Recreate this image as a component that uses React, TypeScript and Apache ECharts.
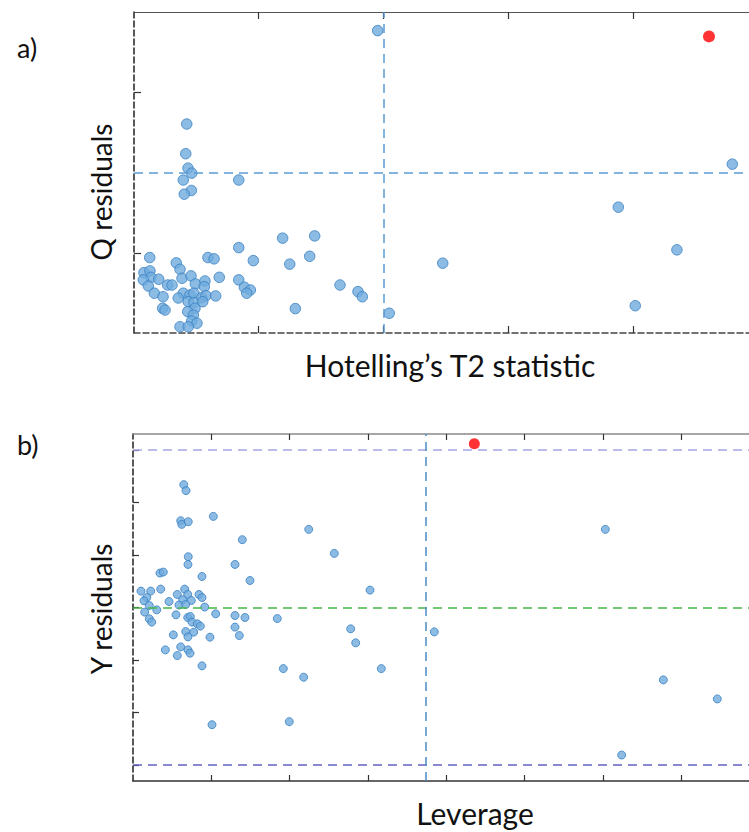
import React, { useEffect, useRef } from "react";
import * as echarts from "echarts";

// Panel a: Hotelling's T2 vs Q residuals (arbitrary units, tick spacing = 1)
const hotellingT2 = [
  1.954, 0.423, 0.415, 0.433, 0.463, 0.395, 0.46, 0.403, 0.84, 1.192, 1.449, 0.84, 0.126, 0.593, 0.642,
  0.957, 1.409, 1.249, 0.339, 0.369, 0.08, 0.128, 0.136, 0.075, 0.198, 0.115, 0.27, 0.305, 0.385, 0.457,
  0.492, 0.569, 0.564, 0.684, 0.84, 0.885, 0.933, 0.904, 0.163, 0.233, 0.395, 0.355, 0.449, 0.481, 0.543,
  0.577, 0.655, 0.435, 0.481, 0.551, 0.23, 0.249, 0.489, 0.431, 0.476, 0.463, 0.505, 0.369, 0.435, 1.652,
  1.796, 1.831, 1.294, 2.047, 2.476, 4.798, 3.884, 4.354, 4.02,
];
const qResiduals = [
  1.884, 1.302, 1.117, 1.027, 0.996, 0.953, 0.888, 0.865, 0.953, 0.591, 0.605, 0.532, 0.47, 0.47, 0.462,
  0.451, 0.478, 0.429, 0.437, 0.397, 0.376, 0.387, 0.347, 0.331, 0.335, 0.293, 0.299, 0.299, 0.341, 0.356,
  0.306, 0.324, 0.289, 0.347, 0.331, 0.285, 0.268, 0.248, 0.248, 0.226, 0.248, 0.218, 0.237, 0.248, 0.22,
  0.233, 0.231, 0.195, 0.189, 0.195, 0.154, 0.143, 0.154, 0.133, 0.112, 0.075, 0.061, 0.039, 0.039, 0.299,
  0.258, 0.226, 0.152, 0.123, 0.435, 1.052, 0.784, 0.518, 0.17,
];
const outlierT2 = [4.611];
const outlierQ = [1.848];
const t2Limit = 2;
const qLimit = 1;
const t2Max = 4.932;
const t2Ticks = [1, 2, 3, 4];
const qTicks = [0.5, 1.5];

// Panel b: Leverage vs Y residuals
const leverage = [
  0.648, 0.677, 0.609, 0.622, 0.706, 1.026, 2.244, 1.396, 2.571, 0.706, 0.702, 1.303, 0.345, 0.387, 0.881,
  1.494, 3.027, 0.102, 0.226, 0.354, 0.175, 0.14, 0.66, 0.566, 0.699, 0.843, 0.881, 0.635, 0.745, 0.46,
  0.208, 0.587, 0.673, 0.916, 0.303, 0.149, 1.056, 0.549, 1.303, 1.43, 1.843, 0.208, 0.239, 0.699, 0.732,
  0.754, 0.821, 0.86, 1.303, 2.78, 0.673, 0.775, 0.515, 1.358, 0.702, 0.983, 2.844, 0.413, 0.609, 0.702,
  0.728, 0.566, 0.881, 1.92, 3.171, 2.18, 1.009, 1.996, 3.848, 6.032, 6.773, 7.462, 6.241,
];
const yResiduals = [
  2.337, 2.223, 1.651, 1.581, 1.632, 1.733, 1.486, 1.29, 1.029, 0.966, 0.819, 0.819, 0.655, 0.674, 0.59,
  0.514, 0.331, 0.312, 0.312, 0.35, 0.19, 0.128, 0.35, 0.248, 0.248, 0.248, 0.19, 0.147, 0.133, 0.114,
  0.038, 0.046, 0.057, 0.008, -0.044, -0.088, -0.12, -0.139, -0.152, -0.19, -0.21, -0.215, -0.278, -0.19,
  -0.171, -0.278, -0.31, -0.354, -0.373, -0.406, -0.457, -0.469, -0.52, -0.533, -0.558, -0.564, -0.672,
  -0.806, -0.749, -0.806, -0.869, -0.914, -1.11, -1.162, -1.162, -1.326, -2.229, -2.171, -0.463, 1.486,
  -1.377, -1.739, -2.806,
];
const outlierLev = [4.359];
const outlierYRes = [3.116];
const leverageLimit = 3.742;
const yResLimit = 3;
const levMax = 7.867;
const levTicks = [1, 2, 3, 4, 5, 6, 7];
const yResTicks = [-3, -2, -1, 0, 1, 2, 3];

const FONT = "Lato, 'Open Sans', sans-serif";
const BLUE_FILL = "#6fabdd";
const BLUE_EDGE = "#3a80c2";

const zip = (a: number[], b: number[]) => a.map((v, i) => [v, b[i]]);

export default function App() {
  const ref = useRef<HTMLDivElement>(null);
  useEffect(() => {
    if (!ref.current) return;
    const chart = echarts.init(ref.current, undefined, { renderer: "svg" });
    const noLine = { show: false };
    const tick = (len: number, values: number[]) => ({
      show: true, inside: true, length: len, customValues: values,
      lineStyle: { color: "#333", width: 1.2 },
    });
    chart.setOption({
      animation: false,
      backgroundColor: "#ffffff",
      grid: [
        { left: 134, top: 12, right: 0, height: 321 },
        { left: 133, top: 434, right: 0, height: 347 },
      ],
      xAxis: [
        {
          gridIndex: 0, type: "value", min: 0, max: t2Max, position: "bottom",
          axisLine: { show: true, onZero: false, lineStyle: { color: "#444", width: 1.5, type: [6, 3] } },
          axisTick: tick(7, t2Ticks),
          axisLabel: { show: false }, splitLine: noLine,
        },
        {
          gridIndex: 0, type: "value", min: 0, max: t2Max, position: "top",
          axisLine: { show: true, onZero: false, lineStyle: { color: "#555", width: 1.2 } },
          axisTick: tick(7, t2Ticks),
          axisLabel: { show: false }, splitLine: noLine,
        },
        {
          gridIndex: 1, type: "value", min: 0, max: levMax, position: "bottom",
          axisLine: { show: true, onZero: false, lineStyle: { color: "#333", width: 1.5 } },
          axisTick: tick(6, levTicks),
          axisLabel: { show: false }, splitLine: noLine,
        },
        {
          gridIndex: 1, type: "value", min: 0, max: levMax, position: "top",
          axisLine: { show: true, onZero: false, lineStyle: { color: "#888", width: 1.5 } },
          axisTick: tick(6, levTicks),
          axisLabel: { show: false }, splitLine: noLine,
        },
      ],
      yAxis: [
        {
          gridIndex: 0, type: "value", min: 0, max: 2,
          axisLine: { show: true, onZero: false, lineStyle: { color: "#222", width: 1.5, type: [6, 3] } },
          axisTick: tick(7, qTicks),
          axisLabel: { show: false }, splitLine: noLine,
        },
        {
          gridIndex: 1, type: "value", min: -3.3, max: 3.3,
          axisLine: { show: true, onZero: false, lineStyle: { color: "#222", width: 1.5, type: [6, 3] } },
          axisTick: tick(6, yResTicks),
          axisLabel: { show: false }, splitLine: noLine,
        },
      ],
      series: [
        {
          type: "scatter", xAxisIndex: 0, yAxisIndex: 0,
          data: zip(hotellingT2, qResiduals),
          symbolSize: 10.5,
          itemStyle: { color: BLUE_FILL, borderColor: BLUE_EDGE, borderWidth: 1 },
          markLine: {
            silent: true, symbol: ["none", "none"], label: { show: false },
            lineStyle: { color: "#5b9bd5", width: 1.5, type: [9, 6] },
            data: [{ xAxis: t2Limit }, { yAxis: qLimit }],
          },
        },
        {
          type: "scatter", xAxisIndex: 0, yAxisIndex: 0,
          data: zip(outlierT2, outlierQ),
          symbolSize: 12,
          itemStyle: { color: "#ff0000" },
        },
        {
          type: "scatter", xAxisIndex: 2, yAxisIndex: 1,
          data: zip(leverage, yResiduals),
          symbolSize: 8,
          itemStyle: { color: BLUE_FILL, borderColor: BLUE_EDGE, borderWidth: 1 },
          markLine: {
            silent: true, symbol: ["none", "none"], label: { show: false },
            data: [
              { yAxis: yResLimit, lineStyle: { color: "#a5a5e6", width: 1.5, type: [9, 6] } },
              { yAxis: -yResLimit, lineStyle: { color: "#6363c4", width: 1.5, type: [9, 6] } },
              { yAxis: 0, lineStyle: { color: "#44b844", width: 1.5, type: [9, 6] } },
              { xAxis: leverageLimit, lineStyle: { color: "#4a8cc4", width: 1.5, type: [9, 6] } },
            ],
          },
        },
        {
          type: "scatter", xAxisIndex: 2, yAxisIndex: 1,
          data: zip(outlierLev, outlierYRes),
          symbolSize: 11,
          itemStyle: { color: "#ff0000" },
        },
      ],
      graphic: [
        { type: "text", x: 17, y: 47, style: { text: "a)", font: `27px ${FONT}`, fill: "#111", align: "left", verticalAlign: "middle" } },
        { type: "text", x: 17, y: 444, style: { text: "b)", font: `27px ${FONT}`, fill: "#111", align: "left", verticalAlign: "middle" } },
        { type: "text", x: 101, y: 192, rotation: Math.PI / 2, style: { text: "Q residuals", font: `28px ${FONT}`, fill: "#111", align: "center", verticalAlign: "middle" } },
        { type: "text", x: 101, y: 609, rotation: Math.PI / 2, style: { text: "Y residuals", font: `28px ${FONT}`, fill: "#111", align: "center", verticalAlign: "middle" } },
        { type: "text", x: 450, y: 365, style: { text: "Hotelling\u2019s T2 statistic", font: `30px ${FONT}`, fill: "#111", align: "center", verticalAlign: "middle" } },
        { type: "text", x: 475, y: 813, style: { text: "Leverage", font: `30px ${FONT}`, fill: "#111", align: "center", verticalAlign: "middle" } },
      ],
    });
    return () => chart.dispose();
  }, []);
  return (
    <div
      ref={ref}
      style={{ position: "absolute", left: 0, top: 0, width: 749, height: 832, background: "#fff" }}
    />
  );
}
